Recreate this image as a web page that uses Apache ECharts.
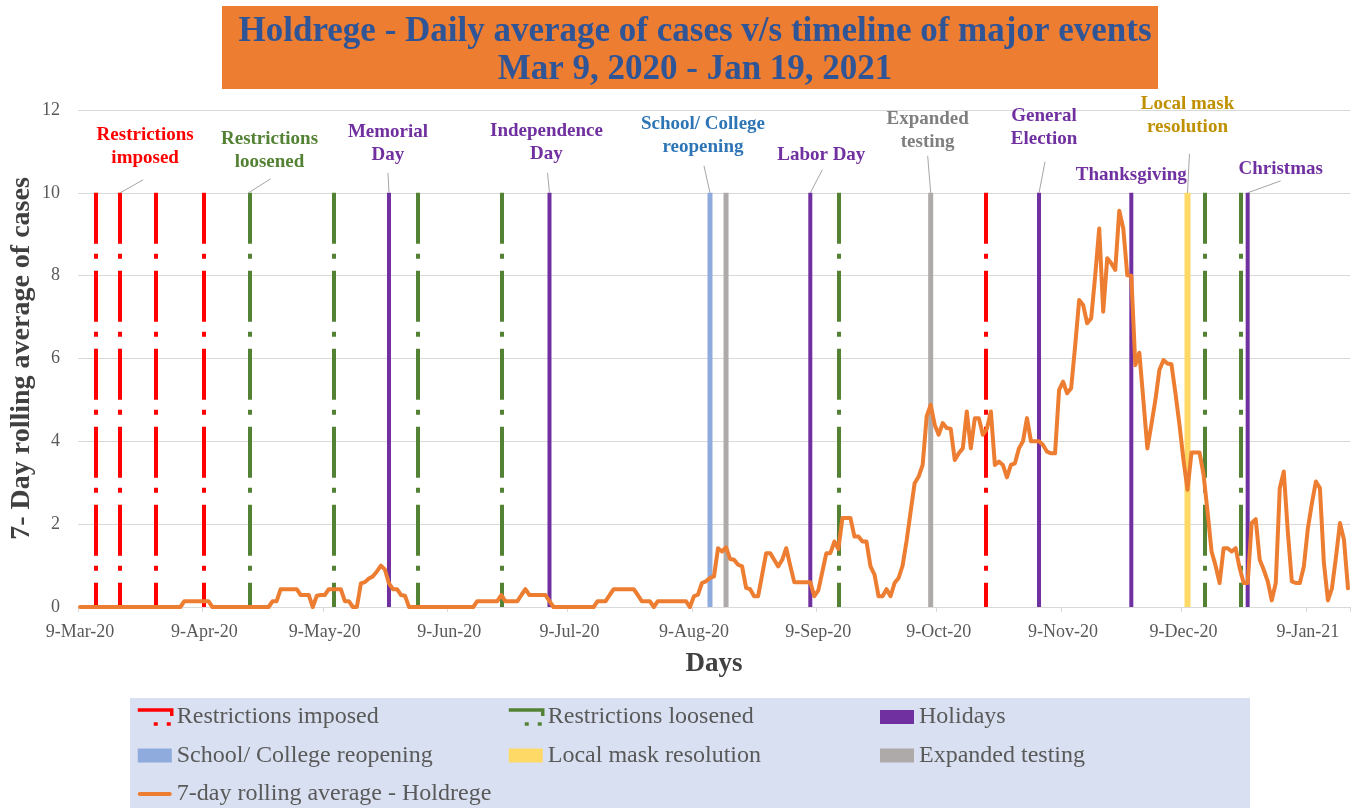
<!DOCTYPE html>
<html>
<head>
<meta charset="utf-8">
<script src="https://cdn.jsdelivr.net/npm/echarts@6/dist/echarts.min.js"></script>
<style>
  html, body { margin: 0; padding: 0; background: #ffffff; }
  #chart { width: 1358px; height: 808px; }
</style>
</head>
<body>
<div id="chart"></div>
<script>
// ---------------- DATA ----------------
const titleLines = ['Holdrege - Daily average of cases v/s timeline of major events', 'Mar 9, 2020 - Jan 19, 2021'];
const startYear = 2020, startMonth = 2, startDay = 9;   // 9-Mar-20
const dayCount = 317;                                    // through 19-Jan-21
const monthNames = ['Jan','Feb','Mar','Apr','May','Jun','Jul','Aug','Sep','Oct','Nov','Dec'];
const yTicks = [0, 2, 4, 6, 8, 10, 12];
const eventHeight = 10;

// 7-day rolling average of cases, one value per day from 9-Mar-20
const rollingAvg = [
  0,0,0,0,0,0,0,0,0,0,                                   // 9-Mar
  0,0,0,0,0,0,0,0,0,0,                                   // 19-Mar
  0,0,0,0,0,0,0.14,0.14,0.14,0.14,                       // 29-Mar
  0.14,0.14,0.14,0,0,0,0,0,0,0,                          // 8-Apr
  0,0,0,0,0,0,0,0,0.14,0.14,                             // 18-Apr
  0.43,0.43,0.43,0.43,0.43,0.29,0.29,0.29,0,0.27,        // 28-Apr
  0.29,0.29,0.43,0.43,0.43,0.43,0.14,0.14,0,0,           // 8-May
  0.57,0.6,0.69,0.74,0.86,1.0,0.9,0.57,0.43,0.43,        // 18-May
  0.29,0.27,0,0,0,0,0,0,0,0,                             // 28-May
  0,0,0,0,0,0,0,0,0,0.14,                                // 7-Jun
  0.14,0.14,0.14,0.14,0.14,0.29,0.14,0.14,0.14,0.14,     // 17-Jun
  0.29,0.43,0.29,0.29,0.29,0.29,0.29,0.14,0,0,           // 27-Jun
  0,0,0,0,0,0,0,0,0,0.14,                                // 7-Jul
  0.14,0.14,0.29,0.43,0.43,0.43,0.43,0.43,0.43,0.29,     // 17-Jul
  0.14,0.14,0.14,0,0.14,0.14,0.14,0.14,0.14,0.14,        // 27-Jul
  0.14,0.14,0,0.26,0.3,0.58,0.62,0.7,0.74,1.42,          // 6-Aug
  1.34,1.44,1.16,1.14,1.02,0.98,0.46,0.43,0.26,0.26,     // 16-Aug
  0.78,1.3,1.3,1.14,0.98,1.14,1.42,1.0,0.6,0.6,          // 26-Aug
  0.6,0.6,0.6,0.26,0.4,0.85,1.3,1.3,1.58,1.4,            // 5-Sep
  2.15,2.15,2.15,1.7,1.7,1.58,1.58,0.98,0.78,0.26,       // 15-Sep
  0.26,0.43,0.26,0.58,0.7,1.0,1.6,2.3,2.99,3.15,         // 25-Sep
  3.43,4.6,4.88,4.4,4.16,4.44,4.32,4.3,3.55,3.71,        // 5-Oct
  3.83,4.72,3.83,4.56,4.56,4.16,4.3,4.72,3.43,3.51,      // 15-Oct
  3.43,3.13,3.43,3.47,3.83,4.0,4.56,4.0,4.0,4.0,         // 25-Oct
  3.91,3.75,3.71,3.71,5.24,5.44,5.16,5.28,6.3,7.41,      // 4-Nov
  7.29,6.85,6.97,8.0,9.14,7.13,8.42,8.3,8.14,9.57,       // 14-Nov
  9.14,8.01,8.0,5.84,6.14,5.0,3.83,4.4,5.0,5.72,         // 24-Nov
  5.96,5.88,5.86,5.16,4.4,3.55,2.83,3.73,3.73,3.73,      // 4-Dec
  3.2,2.3,1.34,1.0,0.58,1.42,1.42,1.34,1.42,0.94,        // 14-Dec
  0.58,0.58,2.03,2.12,1.14,0.9,0.62,0.16,0.58,2.87,      // 24-Dec
  3.27,1.82,0.62,0.58,0.58,0.98,1.9,2.5,3.03,2.87,       // 3-Jan
  1.06,0.16,0.45,1.2,2.03,1.62,0.45                      // 13-Jan .. 19-Jan
];

// event dates
const restrictionsImposed = ['13-Mar-20', '19-Mar-20', '28-Mar-20', '9-Apr-20', '21-Oct-20'];
const restrictionsLoosened = ['20-Apr-20', '11-May-20', '1-Jun-20', '22-Jun-20', '14-Sep-20', '14-Dec-20', '23-Dec-20'];
const holidays = ['25-May-20', '4-Jul-20', '7-Sep-20', '3-Nov-20', '26-Nov-20', '25-Dec-20'];
const schoolReopening = ['13-Aug-20'];
const maskResolution = ['10-Dec-20'];
const expandedTesting = ['17-Aug-20', '7-Oct-20'];

// annotation texts
const annotationDates = ['19-Mar-20', '20-Apr-20', '25-May-20', '4-Jul-20', '13-Aug-20', '7-Sep-20', '7-Oct-20', '3-Nov-20', '26-Nov-20', '10-Dec-20', '25-Dec-20'];
const annotationTexts = ['Restrictions\nimposed', 'Restrictions\nloosened', 'Memorial\nDay', 'Independence\nDay', 'School/ College\nreopening', 'Labor Day', 'Expanded\ntesting', 'General\nElection', 'Thanksgiving', 'Local mask\nresolution', 'Christmas'];

// ---------------- LAYOUT / STYLE ----------------
const SERIF = '"Liberation Serif", "DejaVu Serif", serif';
const C_RED = '#FF0000', C_GREEN = '#548235', C_PURPLE = '#7030A0', C_BLUE = '#8FAADC',
      C_YELLOW = '#FFD966', C_GREY = '#AEAAAA', C_ORANGE = '#ED7D31';
const annotationColors = [C_RED, C_GREEN, C_PURPLE, C_PURPLE, '#2E75B6', C_PURPLE, '#7F7F7F', C_PURPLE, C_PURPLE, '#BF9000', C_PURPLE];
// [label dx, label dy, leader dx, leader dy] relative to the top of the event column
const annotationLayout = [
  [25, -46, 23, -13], [21, -42, 22, -14], [-1, -49, -1, -20], [-3, -50, -2, -20],
  [-7, -57, -6, -27], [11, -38, 12, -23], [-3, -62, -3, -37], [5, -65, 6, -31],
  [0, -18, null, null], [0, -77, 2, -39], [33, -24, 33, -12]
];
const GRID = { left: 78, right: 8, top: 110, bottom: 201, outerBoundsMode: 'none', containLabel: false };
const DASH_LINE = [51, 10, 5, 12];
const DASH_ICON = [40, 9, 4, 9, 4, 30];
const LINE_ICON = 'path://M2,0 L32,0 A2,2 0 0 1 32,4 L2,4 A2,2 0 0 1 2,0 Z';

// ---------------- BUILD ----------------
const categories = [];
for (let i = 0; i < dayCount; i++) {
  const dt = new Date(Date.UTC(startYear, startMonth, startDay + i));
  categories.push(dt.getUTCDate() + '-' + monthNames[dt.getUTCMonth()] + '-' + String(dt.getUTCFullYear()).slice(2));
}
const isMonthTick = (idx, val) => String(val).indexOf('9-') === 0;

const dashedEvents = [
  { name: 'Restrictions imposed', dates: restrictionsImposed, color: C_RED },
  { name: 'Restrictions loosened', dates: restrictionsLoosened, color: C_GREEN }
];
const solidEvents = [
  { name: 'Holidays', dates: holidays, color: C_PURPLE, width: 4 },
  { name: 'School/ College reopening', dates: schoolReopening, color: C_BLUE, width: 5 },
  { name: 'Local mask resolution', dates: maskResolution, color: C_YELLOW, width: 6 },
  { name: 'Expanded testing', dates: expandedTesting, color: C_GREY, width: 5 }
];

const xAxes = [{
  type: 'category', data: categories, gridIndex: 0,
  name: 'Days', nameLocation: 'middle', nameGap: 44,
  nameTextStyle: { fontFamily: SERIF, fontSize: 27, fontWeight: 'bold', color: '#404040' },
  axisLine: { show: true, lineStyle: { color: '#D9D9D9', width: 1 } },
  axisTick: { show: true, interval: isMonthTick, length: 5, lineStyle: { color: '#D9D9D9' } },
  axisLabel: { interval: isMonthTick, color: '#595959', fontFamily: SERIF, fontSize: 18, margin: 16 },
  splitLine: { show: false }
}];
solidEvents.forEach(() => xAxes.push({ type: 'category', data: categories, gridIndex: 0, show: false }));

const series = [];
dashedEvents.forEach(ev => {
  series.push({
    name: ev.name, type: 'bar', xAxisIndex: 0, data: [],
    itemStyle: { color: 'rgba(0,0,0,0)', borderColor: ev.color, borderWidth: 3.5, borderType: DASH_ICON },
    markLine: {
      silent: true, symbol: ['none', 'none'], label: { show: false }, z: 3,
      lineStyle: { color: ev.color, width: 4, type: DASH_LINE, cap: 'butt' },
      emphasis: { disabled: true },
      data: ev.dates.map(d => [{ coord: [d, eventHeight] }, { coord: [d, 0] }])
    }
  });
});
solidEvents.forEach((ev, i) => {
  series.push({
    name: ev.name, type: 'bar', xAxisIndex: i + 1, barWidth: ev.width, z: 3, silent: true,
    itemStyle: { color: ev.color },
    data: ev.dates.map(d => [d, eventHeight])
  });
});
series.push({
  name: '7-day rolling average - Holdrege', type: 'line', xAxisIndex: 0, data: rollingAvg,
  symbol: 'none', z: 10, silent: true,
  lineStyle: { color: C_ORANGE, width: 4, cap: 'round', join: 'round' },
  itemStyle: { color: C_ORANGE }
});

const legendText = { fontFamily: SERIF, fontSize: 24, color: '#595959', lineHeight: 24 };
const legendBase = { orient: 'vertical', top: 705, icon: 'rect', itemWidth: 34, itemHeight: 14, itemGap: 14.5, padding: 0, selectedMode: false, textStyle: legendText, z: 5 };
const dashedLegendItem = (name, color) => ({ name, itemStyle: { color: 'rgba(0,0,0,0)', borderColor: color, borderWidth: 3.5, borderType: DASH_ICON } });

const chart = echarts.init(document.getElementById('chart'), null, { renderer: 'canvas' });
chart.setOption({
  animation: false,
  backgroundColor: '#ffffff',
  title: {
    text: titleLines.join('\n'), left: 690, top: 8, textAlign: 'center',
    textStyle: { fontFamily: SERIF, fontSize: 35, fontWeight: 'bold', color: '#2F5597', lineHeight: 38 },
    z: 6
  },
  grid: GRID,
  xAxis: xAxes,
  yAxis: {
    type: 'value', min: yTicks[0], max: yTicks[yTicks.length - 1], interval: 2,
    name: '7- Day rolling average of cases', nameLocation: 'middle', nameGap: 42, nameMoveOverlap: false,
    nameTextStyle: { fontFamily: SERIF, fontSize: 28, fontWeight: 'bold', color: '#404040' },
    axisLine: { show: false }, axisTick: { show: false },
    axisLabel: { color: '#595959', fontFamily: SERIF, fontSize: 18, margin: 18 },
    splitLine: { lineStyle: { color: '#D9D9D9', width: 1 } }
  },
  legend: [
    Object.assign({}, legendBase, { left: 136, data: [
      dashedLegendItem('Restrictions imposed', C_RED),
      'School/ College reopening',
      { name: '7-day rolling average - Holdrege', icon: LINE_ICON, itemStyle: { color: C_ORANGE } }
    ] }),
    Object.assign({}, legendBase, { left: 507, data: [dashedLegendItem('Restrictions loosened', C_GREEN), 'Local mask resolution'] }),
    Object.assign({}, legendBase, { left: 880, data: ['Holidays', 'Expanded testing'] })
  ],
  series: series
});

// annotations placed relative to each event column's top (through the chart's scales)
const elements = [
  { type: 'rect', z: 0, shape: { x: 222, y: 6, width: 936, height: 83 }, style: { fill: C_ORANGE } },
  { type: 'rect', z: 0, shape: { x: 130, y: 698, width: 1120, height: 112 }, style: { fill: '#D8E0F1' } }
];
annotationDates.forEach((d, i) => {
  const top = chart.convertToPixel({ xAxisIndex: 0, yAxisIndex: 0 }, [d, eventHeight]);
  const lay = annotationLayout[i];
  elements.push({
    type: 'text', z: 20,
    style: {
      text: annotationTexts[i], x: top[0] + lay[0], y: top[1] + lay[1],
      fill: annotationColors[i], font: 'bold 19px ' + SERIF,
      textAlign: 'center', textVerticalAlign: 'middle', lineHeight: 23
    }
  });
  if (lay[2] !== null) {
    elements.push({
      type: 'line', z: 20,
      shape: { x1: top[0] + lay[2], y1: top[1] + lay[3], x2: top[0], y2: top[1] },
      style: { stroke: '#A6A6A6', lineWidth: 1 }
    });
  }
});
chart.setOption({ graphic: { elements: elements } });
</script>
</body>
</html>
